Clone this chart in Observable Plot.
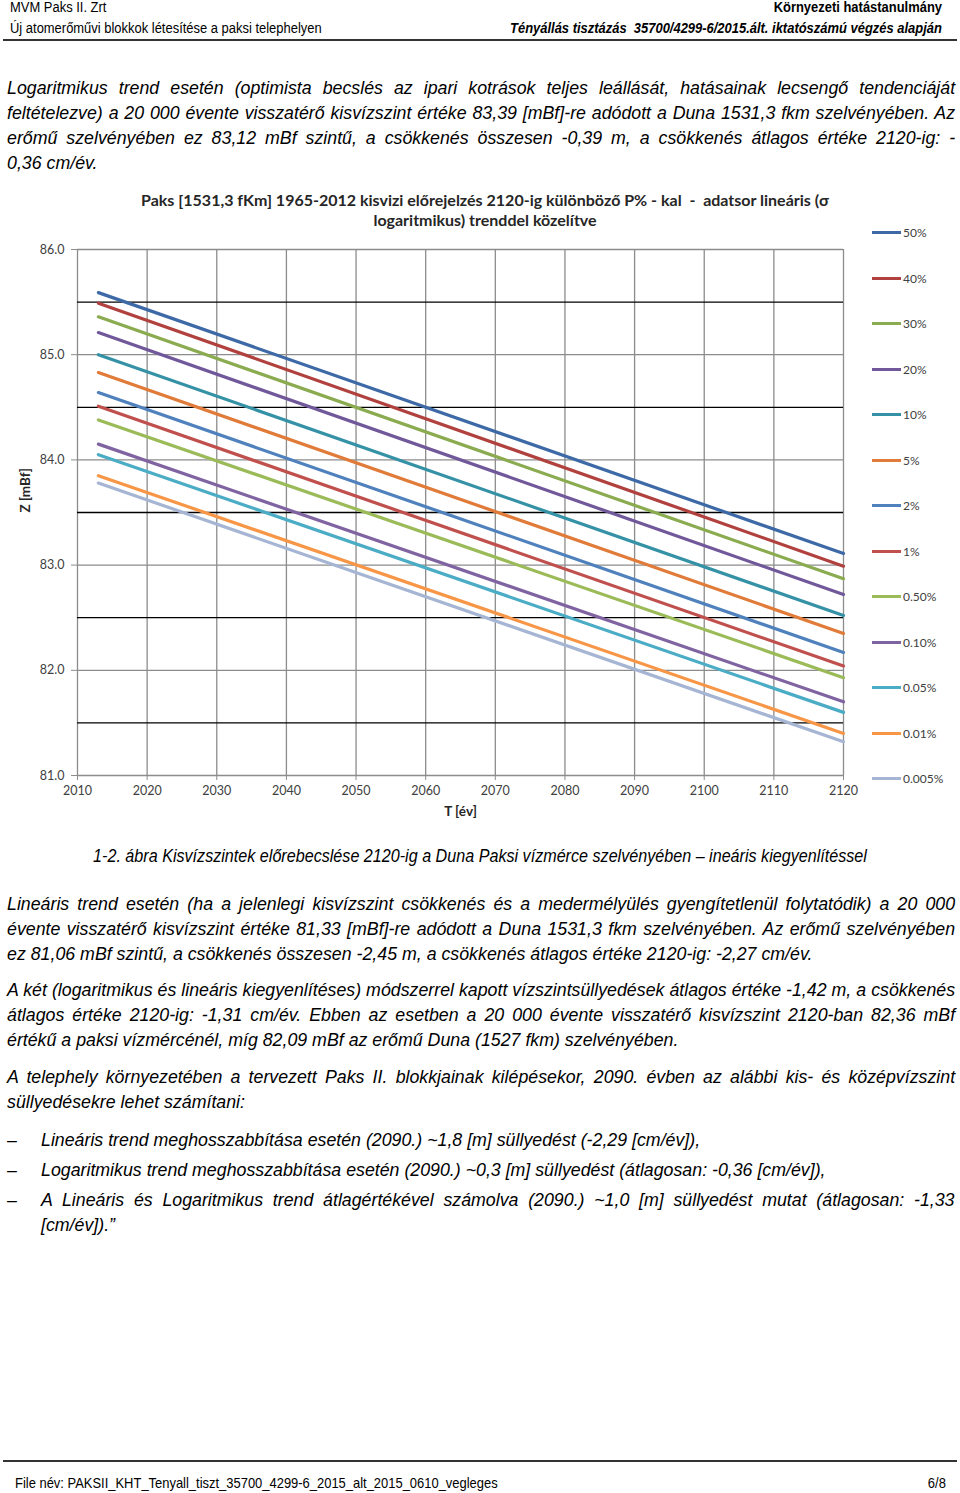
<!DOCTYPE html>
<html>
<head>
<meta charset="utf-8">
<script src="https://cdn.jsdelivr.net/npm/d3@7"></script>
<script src="https://cdn.jsdelivr.net/npm/@observablehq/plot@0.6"></script>
<style>
  html, body { margin: 0; padding: 0; background: #fff; }
  #page { position: relative; width: 960px; height: 1493px; overflow: hidden; background: #fff; color: #000;
          font-family: "Liberation Sans", Arial, sans-serif; }
  .abs { position: absolute; }
  .hl { transform: scaleX(0.925); transform-origin: left top; }
  .hr { transform: scaleX(0.925); transform-origin: right top; }
  .fl { transform: scaleX(0.863); transform-origin: left top; }
  .fr { transform: scaleX(0.863); transform-origin: right top; }
  .cap { transform: scaleX(0.872); transform-origin: center top; }
  .hdr { font-size: 14px; line-height: 17px; white-space: nowrap; }
  .para { position: absolute; left: 7px; width: 1014px; font-style: italic; font-size: 19px; line-height: 25px;
          transform: scaleX(0.935); transform-origin: left top; }
  .para div { white-space: nowrap; }
  .para div.j { text-align: justify; text-align-last: justify; white-space: normal; }
  .bul { left: 41px; width: 977px; }
  .rule { position: absolute; left: 3px; width: 954px; height: 2px; background: #333; }
  #title { position: absolute; left: 0; width: 970px; top: 190px; text-align: center; font-family: Lato, "Open Sans", sans-serif;
           font-weight: bold; font-size: 16px; line-height: 20px; color: #262626; white-space: pre; }
  #chart { position: absolute; left: 0; top: 235px; }
  .leg { position: absolute; font-family: Lato, "Open Sans", sans-serif; font-size: 12px; color: #404040; line-height: 14px; white-space: nowrap; }
  .leg span.sw { display: inline-block; width: 29px; height: 3px; vertical-align: middle; margin-right: 2px; position: relative; top: -1px; }
</style>
</head>
<body>
<div id="page">
  <div class="abs hdr hl" style="left:10px; top:-1px;">MVM Paks II. Zrt</div>
  <div class="abs hdr hr" style="right:18px; top:-1px; font-weight:bold;">Környezeti hatástanulmány</div>
  <div class="abs hdr hl" style="left:10px; top:20px;">Új atomerőművi blokkok létesítése a paksi telephelyen</div>
  <div class="abs hdr hr" style="right:18px; top:20px; font-weight:bold; font-style:italic; white-space:pre;">Tényállás tisztázás  35700/4299-6/2015.ált. iktatószámú végzés alapján</div>
  <div class="rule" style="top:39px;"></div>

  <div class="para" style="top:75px;">
    <div class="j">Logaritmikus trend esetén (optimista becslés az ipari kotrások teljes leállását, hatásainak lecsengő tendenciáját</div>
    <div class="j">feltételezve) a 20 000 évente visszatérő kisvízszint értéke 83,39 [mBf]-re adódott a Duna 1531,3 fkm szelvényében. Az</div>
    <div class="j">erőmű szelvényében ez 83,12 mBf szintű, a csökkenés összesen -0,39 m, a csökkenés átlagos értéke 2120-ig: -</div>
    <div>0,36 cm/év.</div>
  </div>

  <div id="title">Paks [1531,3 fKm] 1965-2012 kisvizi előrejelzés 2120-ig különböző P% - kal  -  adatsor lineáris (σ
logaritmikus) trenddel közelítve</div>
  <div id="chart"></div>
  <div id="legend"></div>

  <div class="abs cap" style="left:-100px; width:1160px; top:843px; text-align:center; font-style:italic; font-size:18.5px; line-height:25px;">1-2. ábra Kisvízszintek előrebecslése 2120-ig a Duna Paksi vízmérce szelvényében – ineáris kiegyenlítéssel</div>

  <div class="para" style="top:891px;">
    <div class="j">Lineáris trend esetén (ha a jelenlegi kisvízszint csökkenés és a medermélyülés gyengítetlenül folytatódik) a 20 000</div>
    <div class="j">évente visszatérő kisvízszint értéke 81,33 [mBf]-re adódott a Duna 1531,3 fkm szelvényében. Az erőmű szelvényében</div>
    <div>ez 81,06 mBf szintű, a csökkenés összesen -2,45 m, a csökkenés átlagos értéke 2120-ig: -2,27 cm/év.</div>
  </div>
  <div class="para" style="top:977px;">
    <div class="j">A két (logaritmikus és lineáris kiegyenlítéses) módszerrel kapott vízszintsüllyedések átlagos értéke -1,42 m, a csökkenés</div>
    <div class="j">átlagos értéke 2120-ig: -1,31 cm/év. Ebben az esetben a 20 000 évente visszatérő kisvízszint 2120-ban 82,36 mBf</div>
    <div>értékű a paksi vízmércénél, míg 82,09 mBf az erőmű Duna (1527 fkm) szelvényében.</div>
  </div>
  <div class="para" style="top:1064px;">
    <div class="j">A telephely környezetében a tervezett Paks II. blokkjainak kilépésekor, 2090. évben az alábbi kis- és középvízszint</div>
    <div>süllyedésekre lehet számítani:</div>
  </div>
  <div class="para" style="top:1127px; width:40px;"><div>–</div></div>
  <div class="para bul" style="top:1127px;"><div>Lineáris trend meghosszabbítása esetén (2090.) ~1,8 [m] süllyedést (-2,29 [cm/év]),</div></div>
  <div class="para" style="top:1157px; width:40px;"><div>–</div></div>
  <div class="para bul" style="top:1157px;"><div>Logaritmikus trend meghosszabbítása esetén (2090.) ~0,3 [m] süllyedést (átlagosan: -0,36 [cm/év]),</div></div>
  <div class="para" style="top:1187px; width:40px;"><div>–</div></div>
  <div class="para bul" style="top:1187px;">
    <div class="j">A Lineáris és Logaritmikus trend átlagértékével számolva (2090.) ~1,0 [m] süllyedést mutat (átlagosan: -1,33</div>
    <div>[cm/év]).”</div>
  </div>

  <div class="rule" style="top:1460px; height:1.5px;"></div>
  <div class="abs fl" style="left:15px; top:1474px; font-size:15px; line-height:18px; white-space:nowrap;">File név: PAKSII_KHT_Tenyall_tiszt_35700_4299-6_2015_alt_2015_0610_vegleges</div>
  <div class="abs fr" style="right:14px; top:1474px; font-size:15px; line-height:18px;">6/8</div>
</div>
<script>
// ---- data ----
const seriesLabels = ["50%", "40%", "30%", "20%", "10%", "5%", "2%", "1%", "0.50%", "0.10%", "0.05%", "0.01%", "0.005%"];
const seriesColors = ["#3d6aa6", "#b0413e", "#8aab4f", "#71589a", "#3592a6", "#e07b39", "#4f81bd", "#c0504d", "#9bbb59", "#8064a2", "#4bacc6", "#f79646", "#a5b5d3"];
const startYear = 2013;
const endYear = 2120;
const startValues = [85.59, 85.49, 85.36, 85.21, 85.00, 84.83, 84.64, 84.51, 84.38, 84.15, 84.05, 83.85, 83.78];
const endValues   = [83.11, 82.99, 82.87, 82.72, 82.52, 82.35, 82.17, 82.04, 81.93, 81.70, 81.60, 81.40, 81.32];
const xTicks = [2010, 2020, 2030, 2040, 2050, 2060, 2070, 2080, 2090, 2100, 2110, 2120];
const yTicks = [81, 82, 83, 84, 85, 86];
const yMinor = [81.5, 82.5, 83.5, 84.5, 85.5];

const rows = seriesLabels.flatMap((s, i) => [
  {series: s, year: startYear, z: startValues[i]},
  {series: s, year: endYear, z: endValues[i]}
]);

const chart = Plot.plot({
  width: 860,
  height: 600,
  marginLeft: 77,
  marginRight: 17,
  marginTop: 14,
  marginBottom: 60,
  x: {domain: [2010, 2120]},
  y: {domain: [81, 86]},
  color: {domain: seriesLabels, range: seriesColors},
  style: {fontFamily: "Lato, 'Open Sans', sans-serif", fontSize: "12.5px", color: "#404040", background: "transparent", overflow: "visible"},
  marks: [
    Plot.ruleX(xTicks, {stroke: "#8c8c8c", strokeWidth: 1.3}),
    Plot.ruleY(yMinor, {stroke: "#000", strokeWidth: 1.3}),
    Plot.ruleY(yTicks, {stroke: "#8c8c8c", strokeWidth: 1.3}),
    Plot.line(rows, {x: "year", y: "z", z: "series", stroke: "series", strokeWidth: 3.2}),
    Plot.axisX({ticks: xTicks, tickFormat: d => String(d), tickSize: 5, tickPadding: 6, label: null, stroke: "#8c8c8c"}),
    Plot.axisY({ticks: yTicks, tickFormat: d3.format(".1f"), tickSize: 6, tickPadding: 7, label: null, stroke: "#8c8c8c"}),
    Plot.text(["T [év]"], {frameAnchor: "bottom", dy: 40, fontWeight: "bold", fontSize: 13.5, fill: "#262626"}),
    Plot.text(["Z [mBf]"], {frameAnchor: "left", dx: -52, rotate: -90, fontWeight: "bold", fontSize: 13.5, fill: "#262626"})
  ]
});
document.getElementById("chart").appendChild(chart);

const legend = document.getElementById("legend");
seriesLabels.forEach((s, i) => {
  const d = document.createElement("div");
  d.className = "leg";
  d.style.left = "872px";
  d.style.top = (226 + i * 45.5) + "px";
  d.innerHTML = `<span class="sw" style="background:${seriesColors[i]}"></span>${s}`;
  legend.appendChild(d);
});
</script>
</body>
</html>
